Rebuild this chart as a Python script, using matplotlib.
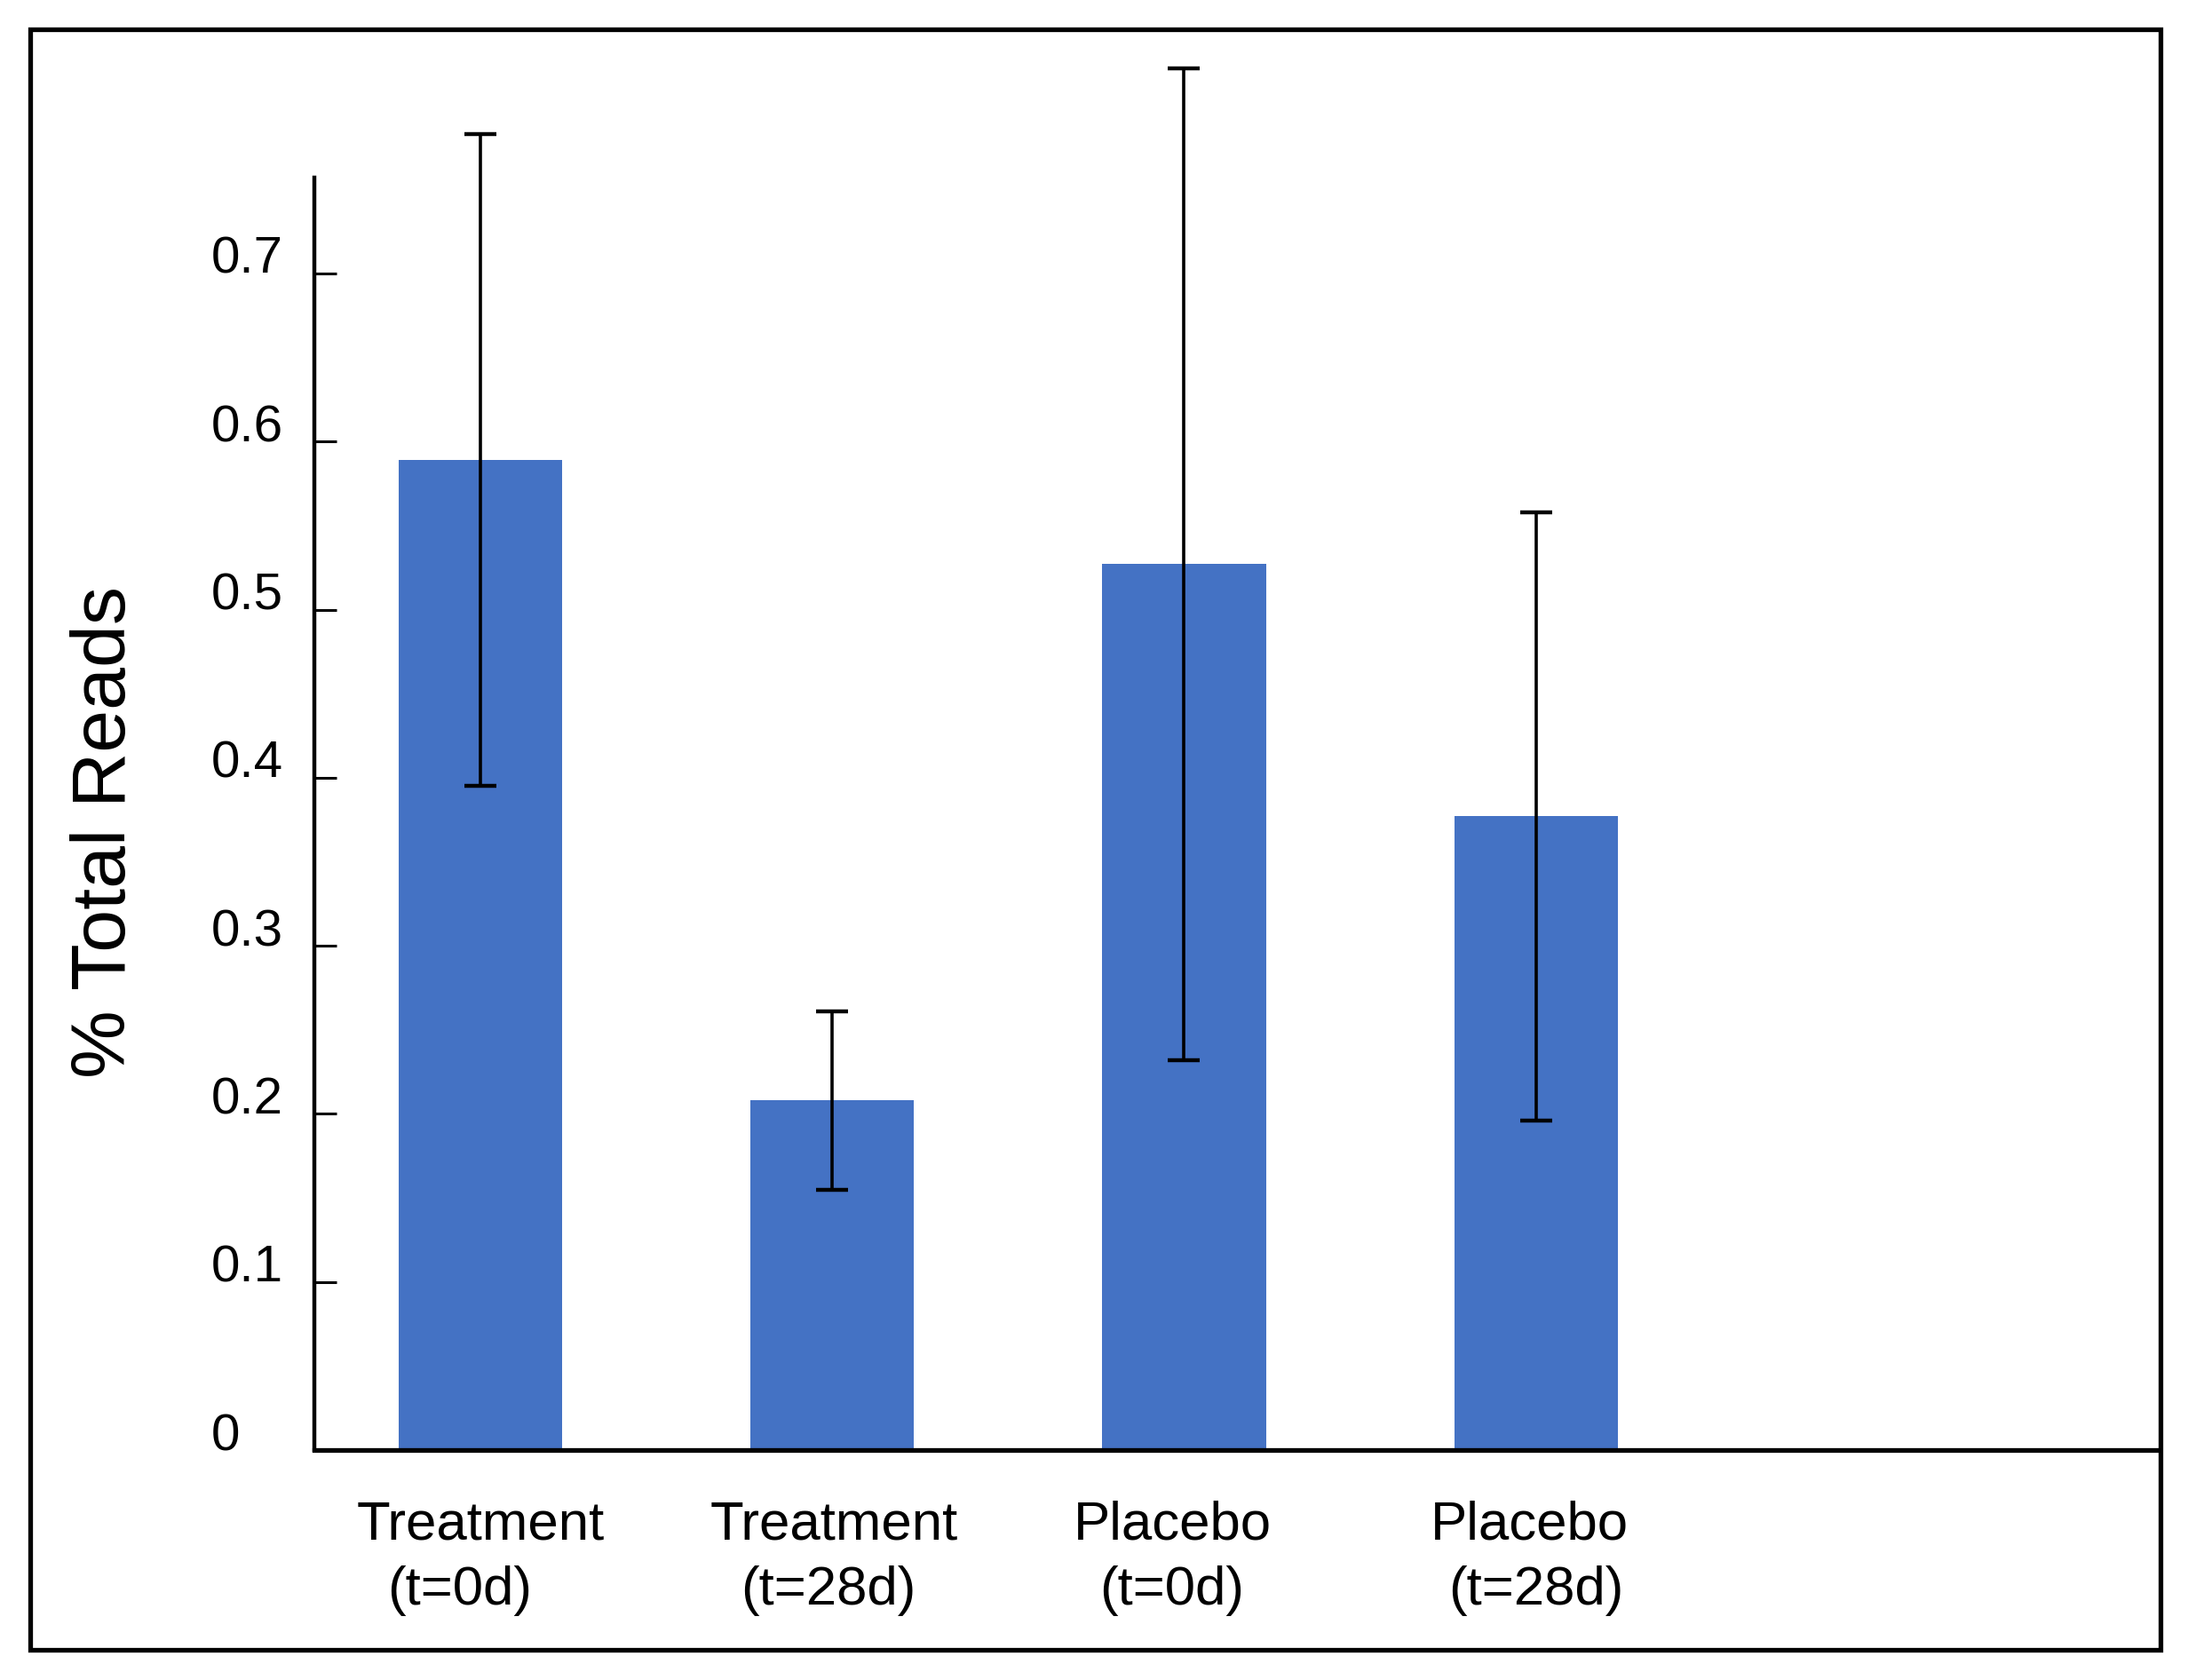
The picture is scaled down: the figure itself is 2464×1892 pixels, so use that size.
import matplotlib
matplotlib.use("Agg")
import matplotlib.pyplot as plt
from matplotlib.patches import Rectangle
import numpy as np

plt.rcParams['font.family'] = ['Liberation Sans', 'DejaVu Sans']

# data
groups_top = ["Treatment", "Treatment", "Placebo", "Placebo"]
groups_bottom = ["(t=0d)", "(t=28d)", "(t=0d)", "(t=28d)"]
mean_reads = [0.589, 0.208, 0.527, 0.377]
err_reads = [0.194, 0.053, 0.295, 0.181]
ytick_vals = [0, 0.1, 0.2, 0.3, 0.4, 0.5, 0.6, 0.7]
ytick_text = ["0", "0.1", "0.2", "0.3", "0.4", "0.5", "0.6", "0.7"]

# small horizontal nudges (pixels) of the two label lines, as in the original
nudge_top = [0, 2, -13, -7]
nudge_bottom = [-23, -4, -14, 0]

W, H = 2464, 1892
fig = plt.figure(figsize=(W / 100, H / 100), dpi=100)
ax = fig.add_axes([354 / W, 1 - 1633 / H, (2429 - 354) / W, (1633 - 200) / H])

x = np.arange(len(mean_reads))
ax.bar(x, mean_reads, width=0.465, color="#4472C4", zorder=2)
ax.errorbar(x, mean_reads, yerr=err_reads, fmt="none", ecolor="black",
            elinewidth=2.6, capsize=13, capthick=3.2, zorder=3, clip_on=False)

ax.set_xlim(-0.472, 4.765)
ax.set_ylim(0, 0.757)

for s in ["top", "right"]:
    ax.spines[s].set_visible(False)
ax.spines["left"].set_linewidth(3.2)
ax.spines["bottom"].set_linewidth(3.8)

ax.set_xticks([])
ax.set_yticks(ytick_vals)
ax.set_yticklabels(ytick_text)
ax.tick_params(axis="y", direction="in", length=18, width=2.2, pad=84,
               labelsize=42)
for i, t in enumerate(ax.yaxis.get_major_ticks()):
    t.label1.set_horizontalalignment("left")
    t.label1.set_verticalalignment("baseline")
    if i == 0:
        t.tick1line.set_visible(False)

for i in range(len(x)):
    ax.annotate(groups_top[i], xy=(x[i], 0), xytext=(nudge_top[i], -101),
                textcoords="offset pixels", ha="center", va="baseline",
                fontsize=44.5, annotation_clip=False)
    ax.annotate(groups_bottom[i], xy=(x[i], 0), xytext=(nudge_bottom[i], -174),
                textcoords="offset pixels", ha="center", va="baseline",
                fontsize=44.5, annotation_clip=False)

fig.text(141 / W, 1 - 937 / H, "% Total Reads", rotation=90,
         rotation_mode="anchor", ha="center", va="baseline", fontsize=62)

fig.add_artist(Rectangle((33.5 / W, 1 - 1857.5 / H), (2433 - 33.5) / W,
                         (1857.5 - 33.5) / H, transform=fig.transFigure,
                         fill=False, lw=3.8, ec="black"))

fig.savefig("out.png", dpi=100)
